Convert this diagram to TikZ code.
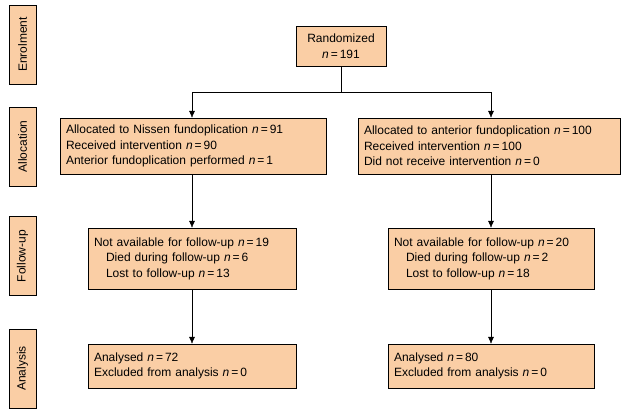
\documentclass[tikz,border=0pt]{standalone}
\usepackage{fontspec}
\setmainfont{Liberation Sans}
\usetikzlibrary{arrows.meta, positioning}
\definecolor{peach}{RGB}{250,206,165}
\newcommand{\nn}{\textit{n}\,=\,}

\begin{document}
\begin{tikzpicture}[x=1pt, y=-1pt,
    stage/.style={draw, fill=peach, rotate=90, minimum width=79pt, minimum height=27pt, inner sep=0pt, font=\fontsize{12}{14}\selectfont},
    box/.style={draw, fill=peach, inner sep=6pt, align=left, font=\fontsize{12}{15.5}\selectfont},
    arr/.style={-{Latex[length=7pt, width=6pt]}}
  ]
    \useasboundingbox (0,0) rectangle (627,418);
    % stage labels
    \node[stage] (enr) at (22.5,44.5) {Enrolment};
    \node[stage] (all) at (22.5,146.5) {Allocation};
    \node[stage] (fol) at (22.5,256) {Follow-up};
    \node[stage] (ana) at (22.5,368.5) {Analysis};
    % boxes
    \node[box, align=center, minimum width=90pt, minimum height=40pt] (rand) at (341,46) {Randomized\\ \nn 191};
    \node[box, text width=254pt, minimum height=56pt] (allL) at (193,146) {Allocated to Nissen fundoplication \nn 91\\ Received intervention \nn 90\\ Anterior fundoplication performed \nn 1};
    \node[box, text width=250pt, minimum height=56pt] (allR) at (489,146) {Allocated to anterior fundoplication \nn 100\\ Received intervention \nn 100\\ Did not receive intervention \nn 0};
    \node[box, text width=196pt, minimum height=61pt] (folL) at (192,258.5) {Not available for follow-up \nn 19\\ \hspace*{12pt}Died during follow-up \nn 6\\ \hspace*{12pt}Lost to follow-up \nn 13};
    \node[box, text width=194pt, minimum height=61pt] (folR) at (491,258.5) {Not available for follow-up \nn 20\\ \hspace*{12pt}Died during follow-up \nn 2\\ \hspace*{12pt}Lost to follow-up \nn 18};
    \node[box, text width=196pt, minimum height=44pt] (anaL) at (192,366) {Analysed \nn 72\\ Excluded from analysis \nn 0};
    \node[box, text width=194pt, minimum height=44pt] (anaR) at (491,366) {Analysed \nn 80\\ Excluded from analysis \nn 0};
    % connectors
    \coordinate (split) at (341,92);
    \draw (rand.south) -- (split);
    \draw[arr] (split) -| (folL.north |- allL.north);
    \draw[arr] (split) -| (folR.north |- allR.north);
    \draw[arr] (folL.north |- allL.south) -- (folL.north);
    \draw[arr] (folR.north |- allR.south) -- (folR.north);
    \draw[arr] (folL.south) -- (anaL.north);
    \draw[arr] (folR.south) -- (anaR.north);
\end{tikzpicture}
\end{document}
